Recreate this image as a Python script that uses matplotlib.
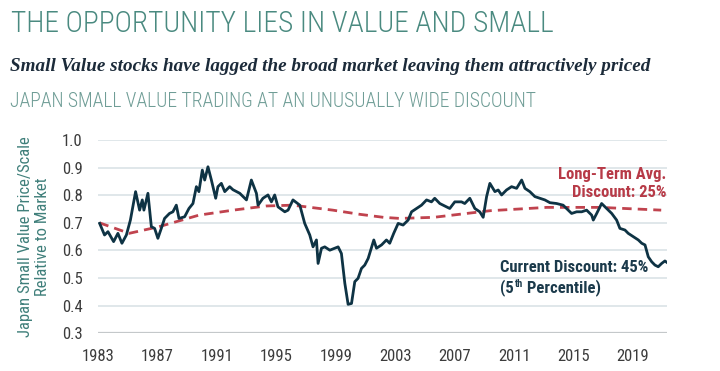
import matplotlib
matplotlib.use("Agg")
import matplotlib.pyplot as plt
from matplotlib import font_manager as fm

# Japan small value price/scale relative to market
years = [1983.11, 1983.44, 1983.67, 1984.05, 1984.34, 1984.61, 1984.91, 1985.18, 1985.53, 1985.80,
         1985.98, 1986.09, 1986.36, 1986.59, 1986.81, 1987.03, 1987.26, 1987.48, 1987.81, 1988.04,
         1988.27, 1988.45, 1988.83, 1989.12, 1989.39, 1989.62, 1989.79, 1990.02, 1990.18, 1990.40,
         1990.63, 1990.92, 1991.07, 1991.30, 1991.53, 1991.86, 1992.08, 1992.54, 1992.99, 1993.32,
         1993.66, 1993.77, 1994.10, 1994.44, 1994.67, 1994.89, 1995.11, 1995.57, 1995.79, 1996.12,
         1996.58, 1996.91, 1997.25, 1997.47, 1997.70, 1997.81, 1998.04, 1998.26, 1998.60, 1999.16,
         1999.38, 1999.61, 1999.83, 2000.06, 2000.28, 2000.50, 2000.73, 2000.95, 2001.18, 2001.56,
         2001.74, 2002.08, 2002.41, 2002.63, 2002.90, 2003.20, 2003.53, 2003.87, 2004.10, 2004.43,
         2004.77, 2005.11, 2005.44, 2005.66, 2006.00, 2006.45, 2006.67, 2007.01, 2007.46, 2007.68,
         2008.02, 2008.36, 2008.69, 2008.92, 2009.15, 2009.37, 2009.71, 2009.93, 2010.16, 2010.49,
         2010.83, 2011.17, 2011.51, 2011.73, 2012.06, 2012.40, 2012.74, 2013.07, 2013.41, 2013.86,
         2014.30, 2014.64, 2014.87, 2015.21, 2015.55, 2015.88, 2016.22, 2016.33, 2016.56, 2016.89,
         2017.23, 2017.57, 2017.90, 2018.12, 2018.46, 2018.68, 2019.02, 2019.36, 2019.59, 2019.81,
         2020.03, 2020.26, 2020.48, 2020.70, 2020.93, 2021.15, 2021.38]
ratio = [0.698, 0.656, 0.668, 0.632, 0.662, 0.626, 0.656, 0.710, 0.813, 0.746,
         0.783, 0.746, 0.807, 0.686, 0.680, 0.644, 0.680, 0.716, 0.734, 0.740,
         0.764, 0.716, 0.722, 0.752, 0.770, 0.831, 0.813, 0.891, 0.855, 0.903,
         0.855, 0.789, 0.831, 0.843, 0.813, 0.831, 0.820, 0.807, 0.783, 0.855,
         0.807, 0.764, 0.789, 0.801, 0.776, 0.801, 0.758, 0.740, 0.746, 0.783,
         0.764, 0.698, 0.656, 0.613, 0.638, 0.553, 0.608, 0.613, 0.601, 0.613,
         0.589, 0.481, 0.405, 0.408, 0.487, 0.499, 0.535, 0.547, 0.571, 0.638,
         0.608, 0.620, 0.638, 0.626, 0.662, 0.698, 0.692, 0.710, 0.740, 0.752,
         0.764, 0.783, 0.776, 0.789, 0.770, 0.758, 0.752, 0.776, 0.776, 0.770,
         0.789, 0.752, 0.740, 0.720, 0.795, 0.843, 0.813, 0.819, 0.801, 0.819,
         0.831, 0.825, 0.855, 0.825, 0.813, 0.795, 0.789, 0.783, 0.773, 0.770,
         0.764, 0.746, 0.734, 0.740, 0.740, 0.746, 0.728, 0.710, 0.734, 0.770,
         0.752, 0.734, 0.710, 0.680, 0.674, 0.662, 0.650, 0.638, 0.626, 0.620,
         0.577, 0.559, 0.547, 0.541, 0.553, 0.562, 0.553]

# long-term average (dashed)
avg_years = [1983.1, 1985.1, 1987.1, 1989.8, 1992.1, 1994.3, 1996.1, 1998.8, 2000.6,
             2002.2, 2003.3, 2005.6, 2007.8, 2009.4, 2013.2, 2016.8, 2020.9]
avg_ratio = [0.700, 0.662, 0.686, 0.728, 0.746, 0.761, 0.764, 0.746, 0.731,
             0.720, 0.716, 0.720, 0.734, 0.744, 0.756, 0.756, 0.746]

xticks = [1983, 1987, 1991, 1995, 1999, 2003, 2007, 2011, 2015, 2019]
yticks = [0.3, 0.4, 0.5, 0.6, 0.7, 0.8, 0.9, 1.0]

names = {f.name for f in fm.fontManager.ttflist}
narrow = next(n for n in ['Roboto Condensed', 'Liberation Sans Narrow', 'Roboto'] if n in names)

TEAL = '#4a8a80'
TEAL2 = '#6f9d96'
NAVY = '#0e3344'
RED = '#c0434e'

fig = plt.figure(figsize=(7.2, 3.71), dpi=100)
W, H = 720, 371
ax = fig.add_axes([98 / W, 1 - 333.3 / H, (667 - 98) / W, (333.3 - 140) / H])

ax.plot(avg_years, avg_ratio, color=RED, lw=2.0, dashes=(3.4, 2.2), zorder=3)
ax.plot(years, ratio, color=NAVY, lw=2.0, zorder=4)

ax.set_xlim(1983, 2021.29)
ax.set_ylim(0.3, 1.0)
ax.set_xticks(xticks)
ax.set_yticks(yticks)
ax.set_yticklabels([f"{v:.1f}" for v in yticks])
for s in ax.spines.values():
    s.set_visible(False)
ax.grid(axis='y', color='#dde5e8', lw=1.3)
ax.axhline(0.3, color='#c4c8ca', lw=1.6, zorder=2)
ax.tick_params(length=0, labelsize=12, labelcolor='#3c3c3c', pad=11)
ax.tick_params(axis='x', pad=11)
for lab in ax.get_xticklabels() + ax.get_yticklabels():
    lab.set_family(narrow)

ax.set_ylabel("Japan Small Value Price/Scale\nRelative to Market", family=narrow,
              fontsize=12, color='#3f7f7a', linespacing=1.15)
ax.yaxis.set_label_coords(-48 / 569, 0.5)

ann = dict(family=narrow, fontsize=12, fontweight='bold')
ax.text(2021.25, 0.902, "Long-Term Avg.\nDiscount: 25%", color='#b73a47', ha='right', va='top',
        linespacing=1.25, **ann)
ax.text(2010.05, 0.567, "Current Discount: 45%", color='#1b3a4b', ha='left', va='top', **ann)
t3 = ax.text(2010.05, 0.497, "(5", color='#1b3a4b', ha='left', va='top', **ann)
t4 = ax.annotate("th", xy=(1, 1), xycoords=t3, xytext=(0.6, 0), textcoords='offset points',
                 family=narrow, fontsize=7.5, fontweight='bold', color='#1b3a4b', va='top')
ax.annotate(" Percentile)", xy=(1, 0), xycoords=(t4, t3), xytext=(0, 0), textcoords='offset points',
            color='#1b3a4b', va='bottom', **ann)

title = fig.text(11 / W, 1 - 31.7 / H, "THE OPPORTUNITY LIES IN VALUE AND SMALL", family=narrow,
                 fontsize=20, fontweight='light', color=TEAL, va='baseline')
sub = fig.text(10 / W, 1 - 70.7 / H,
               "Small Value stocks have lagged the broad market leaving them attractively priced",
               family='Liberation Serif', fontsize=13, fontweight='bold', style='italic',
               color='#1c2b3a', va='baseline')
third = fig.text(10 / W, 1 - 106.7 / H, "JAPAN SMALL VALUE TRADING AT AN UNUSUALLY WIDE DISCOUNT",
                 family=narrow, fontsize=14, fontweight='light', color=TEAL2, va='baseline')


def fit(t, width_px):
    r = fig.canvas.get_renderer()
    w = t.get_window_extent(r).width
    t.set_fontsize(t.get_fontsize() * width_px / w)


fit(title, 542)
fit(sub, 637)
fit(third, 531)

fig.savefig("out.png", dpi=100, facecolor='white')
